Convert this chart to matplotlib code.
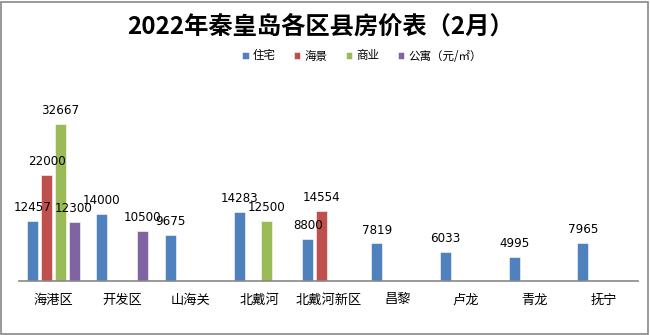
import matplotlib.pyplot as plt
from matplotlib.patches import Rectangle
import numpy as np

plt.rcParams['font.family'] = ['Noto Sans CJK SC', 'DejaVu Sans']

# 数据
districts = ['海港区', '开发区', '山海关', '北戴河', '北戴河新区', '昌黎', '卢龙', '青龙', '抚宁']
zhuzhai = [12457, 14000, 9675, 14283, 8800, 7819, 6033, 4995, 7965]
haijing = [22000, None, None, None, 14554, None, None, None, None]
shangye = [32667, None, None, 12500, None, None, None, None, None]
gongyu = [12300, 10500, None, None, None, None, None, None, None]

series_names = ['住宅', '海景', '商业', '公寓（元/㎡）']
colors = ['#4F81BD', '#C0504D', '#9BBB59', '#8064A2']

W, H = 650, 335
fig = plt.figure(figsize=(6.5, 3.35), dpi=100)
fig.patch.set_facecolor('white')

# Rahmen ums ganze Bild
fig.patches.append(Rectangle((1 / W, 1 / H), 647 / W, 332 / H, transform=fig.transFigure,
                             fill=False, edgecolor='#888888', linewidth=1.2))

ax = fig.add_axes([19 / W, (H - 281) / H, 619 / W, (281 - 70) / H])
ax.set_ylim(0, (281 - 70) / 0.0048)
ax.set_xlim(-0.5, len(districts) - 0.5)

x = np.arange(len(districts))
slot = 0.8 / 4
bw = slot * 0.8
handles = []
for i, vals in enumerate([zhuzhai, haijing, shangye, gongyu]):
    xs = [xi - 0.4 + slot * (i + 0.5) for xi, v in zip(x, vals) if v is not None]
    vs = [v for v in vals if v is not None]
    bars = ax.bar(xs, vs, width=bw, color=colors[i], edgecolor='white', linewidth=0.4)
    handles.append(bars)
    for xx, vv in zip(xs, vs):
        ax.annotate(str(vv), (xx, vv), xytext=(0, 5), textcoords='offset points',
                    ha='center', va='bottom', fontsize=8.6, family='DejaVu Sans')

for s in ['top', 'right', 'left']:
    ax.spines[s].set_visible(False)
ax.spines['bottom'].set_color('#888888')
ax.spines['bottom'].set_linewidth(1.2)
ax.set_yticks([])
ax.set_xticks(x)
ax.set_xticklabels(districts, fontsize=9.5)
ax.tick_params(axis='x', length=0, pad=9)
ax.patch.set_alpha(0)

fig.text(320 / W, 1 - 27 / H, '2022年秦皇岛各区县房价表（2月）', ha='center', va='center',
         fontsize=17.5, fontweight='bold')

fig.legend(handles, series_names, loc='center', bbox_to_anchor=(362 / W, 1 - 56 / H), ncol=4,
           frameon=False, fontsize=8.3, handlelength=0.55, handleheight=0.55,
           handletextpad=0.35, columnspacing=1.6)

plt.savefig('out.png', dpi=100)
